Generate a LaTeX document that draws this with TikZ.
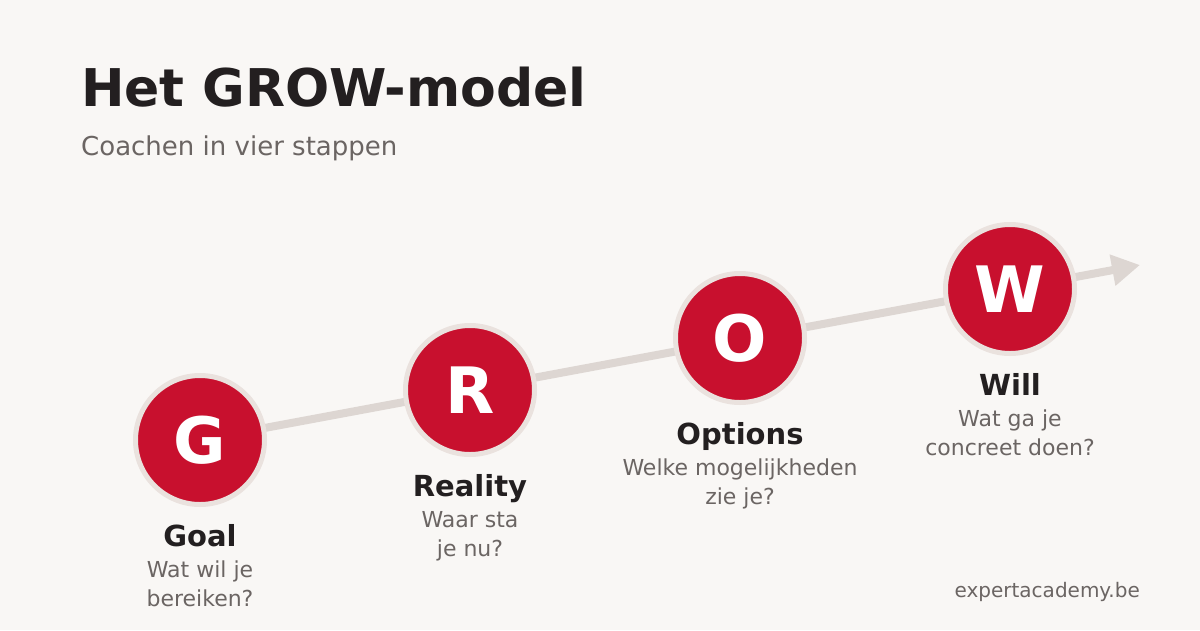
\documentclass[tikz,border=0pt]{standalone}
\usepackage{fontspec}
\setmainfont{DejaVu Sans}
\usetikzlibrary{arrows.meta,calc}
\pgfdeclarelayer{bg}
\pgfsetlayers{bg,main}
\definecolor{bgc}{HTML}{F9F7F5}
\definecolor{redc}{HTML}{C8102E}
\definecolor{ringc}{HTML}{EAE2DE}
\definecolor{linec}{HTML}{DDD6D2}
\definecolor{darkc}{HTML}{231F20}
\definecolor{grayc}{HTML}{6B6563}
\tikzset{
  stepcircle/.style={circle, fill=redc, draw=ringc, line width=5pt, minimum size=129pt, inner sep=0pt,
    text=white, font=\fontsize{64}{64}\selectfont\bfseries},
  steplabel/.style={anchor=base, text=darkc, inner sep=0pt, font=\fontsize{29}{29}\selectfont\bfseries},
  stepdesc/.style={anchor=base, text=grayc, inner sep=0pt, font=\fontsize{22}{22}\selectfont},
  pathline/.style={draw=linec, line width=8pt, -{Triangle[length=28pt,width=30pt]}}
}
\begin{document}
\begin{tikzpicture}[x=1pt,y=-1pt]
\useasboundingbox (0,0) rectangle (1200,630);

\node[anchor=base west, inner sep=0pt, text=darkc, font=\fontsize{52}{52}\selectfont\bfseries] (title) at (81,106) {Het GROW-model};
\node[anchor=base west, inner sep=0pt, text=grayc, font=\fontsize{26}{26}\selectfont] (subtitle) at (81,155) {Coachen in vier stappen};

\node[stepcircle] (g) at (200,440) {G};
\node[stepcircle] (r) at (470,390) {R};
\node[stepcircle] (o) at (740,338) {O};
\node[stepcircle] (w) at (1010,289) {W};

\coordinate (tip) at (1140,265);
\begin{pgfonlayer}{bg}
\path[fill=bgc] (0,0) rectangle (1200,630);
\draw[pathline] (g.center) -- (tip);
\end{pgfonlayer}

\node[steplabel] (gl) at ($(g.center)+(0,106)$) {Goal};
\node[stepdesc] (gd1) at ($(g.center)+(0,137)$) {Wat wil je};
\node[stepdesc] (gd2) at ($(g.center)+(0,166)$) {bereiken?};

\node[steplabel] (rl) at ($(r.center)+(0,106)$) {Reality};
\node[stepdesc] (rd1) at ($(r.center)+(0,137)$) {Waar sta};
\node[stepdesc] (rd2) at ($(r.center)+(0,166)$) {je nu?};

\node[steplabel] (ol) at ($(o.center)+(0,106)$) {Options};
\node[stepdesc] (od1) at ($(o.center)+(0,137)$) {Welke mogelijkheden};
\node[stepdesc] (od2) at ($(o.center)+(0,166)$) {zie je?};

\node[steplabel] (wl) at ($(w.center)+(0,106)$) {Will};
\node[stepdesc] (wd1) at ($(w.center)+(0,137)$) {Wat ga je};
\node[stepdesc] (wd2) at ($(w.center)+(0,166)$) {concreet doen?};

\node[anchor=base east, inner sep=0pt, text=grayc, font=\fontsize{20}{20}\selectfont] (footer) at (1140,597) {expertacademy.be};
\end{tikzpicture}
\end{document}
